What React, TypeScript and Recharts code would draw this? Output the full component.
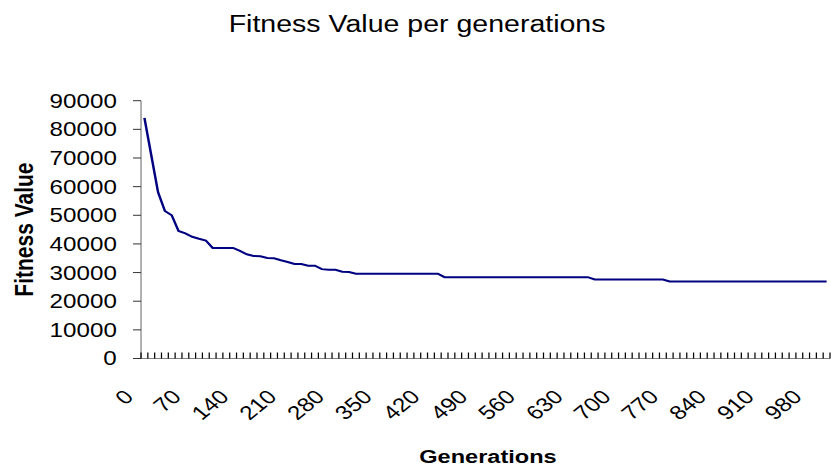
import React from 'react';
import { LineChart, Line, XAxis, YAxis } from 'recharts';

// ---- data ----
const generations: number[] = [
  0, 10, 20, 30, 40, 50, 60, 70, 80, 90,
  100, 110, 120, 130, 140, 150, 160, 170, 180, 190,
  200, 210, 220, 230, 240, 250, 260, 270, 280, 290,
  300, 310, 320, 330, 340, 350, 360, 370, 380, 390,
  400, 410, 420, 430, 440, 450, 460, 470, 480, 490,
  500, 510, 520, 530, 540, 550, 560, 570, 580, 590,
  600, 610, 620, 630, 640, 650, 660, 670, 680, 690,
  700, 710, 720, 730, 740, 750, 760, 770, 780, 790,
  800, 810, 820, 830, 840, 850, 860, 870, 880, 890,
  900, 910, 920, 930, 940, 950, 960, 970, 980, 990,
  1000,
];

const fitnessValues: number[] = [
  84000, 71000, 58000, 51500, 50000, 44500, 43700, 42500, 41800, 41200,
  38600, 38600, 38600, 38600, 37600, 36400, 35800, 35700, 35100, 35000,
  34300, 33700, 33000, 33000, 32400, 32400, 31200, 31000, 31000, 30300,
  30200, 29600, 29600, 29600, 29600, 29600, 29600, 29600, 29600, 29600,
  29600, 29600, 29600, 29600, 28400, 28400, 28400, 28400, 28400, 28400,
  28400, 28400, 28400, 28400, 28400, 28400, 28400, 28400, 28400, 28400,
  28400, 28400, 28400, 28400, 28400, 28400, 27600, 27600, 27600, 27600,
  27600, 27600, 27600, 27600, 27600, 27600, 27600, 26900, 26900, 26900,
  26900, 26900, 26900, 26900, 26900, 26900, 26900, 26900, 26900, 26900,
  26900, 26900, 26900, 26900, 26900, 26900, 26900, 26900, 26900, 26900,
  26900,
];

const xLabelTicks: number[] = [0, 70, 140, 210, 280, 350, 420, 490, 560, 630, 700, 770, 840, 910, 980];
const xBoundaryTicks: number[] = [
  -5, 5, 15, 25, 35, 45, 55, 65, 75, 85, 95,
  105, 115, 125, 135, 145, 155, 165, 175, 185, 195,
  205, 215, 225, 235, 245, 255, 265, 275, 285, 295,
  305, 315, 325, 335, 345, 355, 365, 375, 385, 395,
  405, 415, 425, 435, 445, 455, 465, 475, 485, 495,
  505, 515, 525, 535, 545, 555, 565, 575, 585, 595,
  605, 615, 625, 635, 645, 655, 665, 675, 685, 695,
  705, 715, 725, 735, 745, 755, 765, 775, 785, 795,
  805, 815, 825, 835, 845, 855, 865, 875, 885, 895,
  905, 915, 925, 935, 945, 955, 965, 975, 985, 995,
  1005,
];
const yTicks: number[] = [0, 10000, 20000, 30000, 40000, 50000, 60000, 70000, 80000, 90000];

const chartTitle = 'Fitness Value per generations';
const xTitle = 'Generations';
const yTitle = 'Fitness Value';

const data = generations.map((g, i) => ({ gen: g, fitness: fitnessValues[i] }));

// ---- styling ----
const FONT = '"Liberation Sans", Arial, Helvetica, sans-serif';
const STRETCH = 831 / 670;
const W = 670;
const H = 471;

const YTick = (props: any) => {
  const { x, y, payload } = props;
  return (
    <text x={x} y={y} dy="0.358em" textAnchor="end" fontFamily={FONT} fontSize={19.5} fill="#000">
      {payload.value}
    </text>
  );
};

const XLabelTick = (props: any) => {
  const { x, y, payload } = props;
  return (
    <text
      transform={`translate(${x - 7.8},${y + 38.5}) rotate(-45)`}
      textAnchor="end"
      fontFamily={FONT}
      fontSize={19.5}
      fill="#000"
    >
      {payload.value}
    </text>
  );
};

// inward tick mark drawn at each category boundary given by the axis scale
const BoundaryTick = (props: any) => {
  const { x, y } = props;
  return <line x1={x} y1={y} x2={x} y2={y - 6} stroke="#000" strokeWidth={1} />;
};

const XTitle = (props: any) => {
  const vb = props.viewBox || { x: 0, y: 0, width: 0, height: 0 };
  return (
    <text
      x={vb.x + vb.width / 2 + 2}
      y={vb.y + 103.5}
      textAnchor="middle"
      fontFamily={FONT}
      fontWeight="bold"
      fontSize={19}
      fill="#000"
    >
      {xTitle}
    </text>
  );
};

const YTitle = (props: any) => {
  const vb = props.viewBox || { x: 0, y: 0, width: 0, height: 0 };
  const cx = vb.x + 26.9;
  const cy = vb.y + vb.height / 2;
  return (
    <text
      transform={`translate(${cx},${cy}) rotate(-90)`}
      textAnchor="middle"
      fontFamily={FONT}
      fontWeight="bold"
      fontSize={21}
      fill="#000"
    >
      {yTitle}
    </text>
  );
};

export default function App() {
  return (
    <div
      style={{
        position: 'absolute',
        left: 0,
        top: 0,
        width: W,
        height: H,
        transform: `scaleX(${STRETCH})`,
        transformOrigin: '0 0',
        background: '#fff',
      }}
    >
      <svg
        width={W}
        height={60}
        style={{ position: 'absolute', left: 0, top: 0, pointerEvents: 'none' }}
      >
        <text x={336.3} y={31.7} textAnchor="middle" fontFamily={FONT} fontSize={23} fill="#000">
          {chartTitle}
        </text>
      </svg>
      <LineChart
        width={W}
        height={H}
        data={data}
        margin={{ top: 100.7, right: 0.8, bottom: 0, left: 0 }}
      >
        <XAxis
          xAxisId="b_labels"
          dataKey="gen"
          type="number"
          domain={[-5, 1005]}
          allowDataOverflow
          ticks={xLabelTicks}
          interval={0}
          height={111.5}
          tickSize={0}
          tickMargin={0}
          axisLine={false}
          tickLine={false}
          tick={XLabelTick}
          label={<XTitle />}
        />
        <XAxis
          xAxisId="a_ticks"
          dataKey="gen"
          type="number"
          domain={[-5, 1005]}
          allowDataOverflow
          ticks={xBoundaryTicks}
          interval={0}
          height={1}
          tickSize={0}
          tickMargin={0}
          tick={BoundaryTick}
          axisLine={{ stroke: '#808080', strokeWidth: 1 }}
          tickLine={false}
        />
        <YAxis
          type="number"
          domain={[0, 90000]}
          ticks={yTicks}
          interval={0}
          width={113.7}
          tickSize={6.5}
          tickMargin={13}
          axisLine={{ stroke: '#808080', strokeWidth: 1 }}
          tickLine={{ stroke: '#333', strokeWidth: 1 }}
          tick={YTick}
          label={<YTitle />}
        />
        <Line
          xAxisId="a_ticks"
          dataKey="fitness"
          type="linear"
          stroke="#000080"
          strokeWidth={2}
          dot={false}
          activeDot={false}
          isAnimationActive={false}
        />
      </LineChart>
    </div>
  );
}
